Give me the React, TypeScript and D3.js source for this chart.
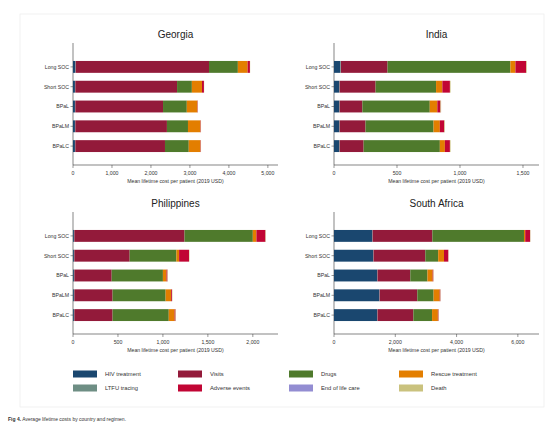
import React from "react";
import * as d3 from "d3";

const regimens = ["Long SOC", "Short SOC", "BPaL", "BPaLM", "BPaLC"];
const components = [
  "HIV treatment",
  "LTFU tracing",
  "Visits",
  "Drugs",
  "Rescue treatment",
  "Adverse events",
  "End of life care",
  "Death",
];
const legendOrder = [
  "HIV treatment", "Visits", "Drugs", "Rescue treatment",
  "LTFU tracing", "Adverse events", "End of life care", "Death",
];
const colors: Record<string, string> = {
  "HIV treatment": "#1a476f",
  "LTFU tracing": "#6e8e84",
  Visits: "#931a3a",
  Drugs: "#4f7a2c",
  "Rescue treatment": "#e37e00",
  "Adverse events": "#c10534",
  "End of life care": "#938dd2",
  Death: "#cac27e",
};

// values per regimen, order of `components`
const georgia = [
  [60, 10, 3420, 740, 250, 60, 0, 5],
  [50, 10, 2610, 380, 260, 50, 0, 5],
  [50, 10, 2250, 610, 270, 10, 0, 5],
  [50, 10, 2350, 540, 320, 10, 0, 5],
  [50, 10, 2300, 610, 300, 10, 0, 5],
];
const india = [
  [50, 5, 370, 975, 40, 85, 0, 5],
  [40, 5, 285, 480, 50, 60, 0, 5],
  [40, 5, 180, 535, 60, 25, 0, 5],
  [40, 5, 205, 540, 50, 35, 0, 5],
  [40, 5, 190, 605, 40, 40, 0, 5],
];
const philippines = [
  [10, 5, 1225, 760, 40, 100, 0, 5],
  [10, 5, 615, 520, 30, 110, 0, 5],
  [10, 5, 415, 570, 40, 10, 0, 5],
  [10, 5, 425, 590, 60, 10, 0, 5],
  [10, 5, 425, 625, 65, 10, 0, 5],
];
const southAfrica = [
  [1250, 10, 1950, 2990, 40, 160, 0, 10],
  [1280, 10, 1690, 420, 190, 140, 0, 10],
  [1410, 10, 1070, 560, 170, 20, 0, 10],
  [1480, 10, 1230, 530, 200, 20, 0, 10],
  [1410, 10, 1170, 610, 190, 20, 0, 10],
];

const countries = ["Georgia", "India", "Philippines", "South Africa"];
const countryData = [georgia, india, philippines, southAfrica];
const xMax = [5260, 1627, 2280, 6690];
const xTicks = [
  [0, 1000, 2000, 3000, 4000, 5000],
  [0, 500, 1000, 1500],
  [0, 500, 1000, 1500, 2000],
  [0, 2000, 4000, 6000],
];
const axisTitle = "Mean lifetime cost per patient (2019 USD)";

const FONT = "Liberation Sans, Arial, sans-serif";

function Panel({ idx, x0, y0 }: { idx: number; x0: number; y0: number }) {
  const data = countryData[idx];
  const plotW = 205;
  const x = d3.scaleLinear().domain([0, xMax[idx]]).range([x0, x0 + plotW]);
  const y = d3
    .scaleBand()
    .domain(regimens)
    .range([y0 + 14, y0 + 113])
    .paddingInner(0.4)
    .paddingOuter(0.2);
  const stack = d3
    .stack<number[]>()
    .keys(components.map((_, i) => String(i)))
    .value((d, k) => d[+k]);
  const series = stack(data);
  const axisY = y0 + 122;
  const fmt = d3.format(",");
  return (
    <g>
      <text
        x={x0 + plotW / 2}
        y={y0 - 5}
        textAnchor="middle"
        fontSize={10}
        fontFamily={FONT}
        fill="#222"
      >
        {countries[idx]}
      </text>
      <line x1={x0} x2={x0} y1={y0} y2={axisY} stroke="#333" strokeWidth={0.6} />
      <line x1={x0} x2={x0 + plotW} y1={axisY} y2={axisY} stroke="#333" strokeWidth={0.6} />
      {series.map((s, si) => (
        <g key={si} fill={colors[components[si]]}>
          {s.map((d, ri) => (
            <rect
              key={ri}
              x={x(d[0])}
              y={y(regimens[ri])!}
              width={Math.max(0, x(d[1]) - x(d[0]))}
              height={y.bandwidth()}
            />
          ))}
        </g>
      ))}
      {regimens.map((r) => (
        <g key={r}>
          <line
            x1={x0 - 2.5}
            x2={x0}
            y1={y(r)! + y.bandwidth() / 2}
            y2={y(r)! + y.bandwidth() / 2}
            stroke="#333"
            strokeWidth={0.5}
          />
          <text
            x={x0 - 4}
            y={y(r)! + y.bandwidth() / 2}
            dy="0.35em"
            textAnchor="end"
            fontSize={5.2}
            fontFamily={FONT}
            fill="#333"
          >
            {r}
          </text>
        </g>
      ))}
      {xTicks[idx].map((t) => (
        <g key={t}>
          <line x1={x(t)} x2={x(t)} y1={axisY} y2={axisY + 3} stroke="#333" strokeWidth={0.5} />
          <text
            x={x(t)}
            y={axisY + 10}
            textAnchor="middle"
            fontSize={5.2}
            fontFamily={FONT}
            fill="#333"
          >
            {fmt(t)}
          </text>
        </g>
      ))}
      <text
        x={x0 + plotW / 2}
        y={axisY + 18}
        textAnchor="middle"
        fontSize={5.2}
        fontFamily={FONT}
        fill="#333"
      >
        {axisTitle}
      </text>
    </g>
  );
}

export default function App() {
  const legendX = [73, 178, 289, 399];
  const legendY = [374, 388];
  return (
    <svg
      width={554}
      height={425}
      style={{ position: "absolute", left: 0, top: 0, background: "#fff" }}
    >
      <rect x={0} y={0} width={554} height={425} fill="#fff" />
      <rect x={20} y={14} width={524} height={393} fill="none" stroke="#eee" strokeWidth={0.8} />
      <Panel idx={0} x0={73} y0={43} />
      <Panel idx={1} x0={334} y0={43} />
      <Panel idx={2} x0={73} y0={212} />
      <Panel idx={3} x0={334} y0={212} />
      {legendOrder.map((name, i) => {
        const cx = legendX[i % 4];
        const cy = legendY[Math.floor(i / 4)];
        return (
          <g key={name}>
            <rect x={cx} y={cy - 3.5} width={24} height={7} fill={colors[name]} />
            <text
              x={cx + 32}
              y={cy}
              dy="0.35em"
              fontSize={5.8}
              fontFamily={FONT}
              fill="#333"
            >
              {name}
            </text>
          </g>
        );
      })}
      <text x={8} y={421} fontSize={5} fontFamily={FONT} fill="#333">
        <tspan fontWeight="bold">Fig 4.</tspan> Average lifetime costs by country and regimen.
      </text>
    </svg>
  );
}
